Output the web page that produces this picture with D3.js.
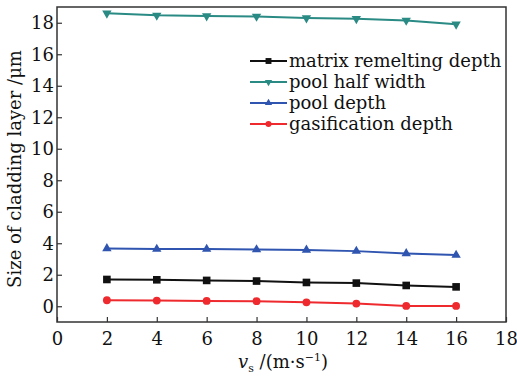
<!DOCTYPE html>
<html><head><meta charset="utf-8">
<script src="https://cdn.jsdelivr.net/npm/d3@7/dist/d3.min.js"></script>
<style>body{margin:0;background:#fff}svg{display:block}text{font-family:"DejaVu Serif",serif;fill:#111}</style>
</head><body><svg id="c" width="517" height="376"></svg>
<script>
const speeds = [2, 4, 6, 8, 10, 12, 14, 16];
const matrixRemelting = [1.70, 1.68, 1.64, 1.60, 1.51, 1.47, 1.32, 1.23];
const poolHalfWidth = [18.60, 18.47, 18.43, 18.40, 18.30, 18.25, 18.15, 17.90];
const poolDepth = [3.67, 3.63, 3.63, 3.60, 3.57, 3.50, 3.35, 3.25];
const gasification = [0.38, 0.36, 0.34, 0.32, 0.25, 0.17, 0.02, 0.02];
const seriesNames = ["matrix remelting depth", "pool half width", "pool depth", "gasification depth"];
const xTicks = [0, 2, 4, 6, 8, 10, 12, 14, 16, 18];
const yTicks = [0, 2, 4, 6, 8, 10, 12, 14, 16, 18];

const series = [
  {name: seriesNames[0], values: matrixRemelting, color: "#111111", sym: d3.symbolSquare, size: 58, rot: 0},
  {name: seriesNames[1], values: poolHalfWidth, color: "#2a8a84", sym: d3.symbolTriangle, size: 38, rot: 180},
  {name: seriesNames[2], values: poolDepth, color: "#2f55b0", sym: d3.symbolTriangle, size: 38, rot: 0},
  {name: seriesNames[3], values: gasification, color: "#ee2a2e", sym: d3.symbolCircle, size: 48, rot: 0}
];

const FS = "18px";
const svg = d3.select("#c");
const L = 57, R = 506, T = 7, B = 322;
const x = d3.scaleLinear().domain([0, 18]).range([L, R]);
const y = d3.scaleLinear().domain([-1, 19]).range([B, T]);

svg.append("rect").attr("x", L).attr("y", T).attr("width", R - L).attr("height", B - T)
  .attr("fill", "none").attr("stroke", "#333").attr("stroke-width", 1.5);

const xAxis = svg.append("g").attr("transform", `translate(0,${B})`)
  .call(d3.axisBottom(x).tickValues(xTicks).tickSizeInner(-5).tickSizeOuter(0).tickPadding(10).tickFormat(d3.format("d")));
const yAxis = svg.append("g").attr("transform", `translate(${L},0)`)
  .call(d3.axisLeft(y).tickValues(yTicks).tickSizeInner(-5).tickSizeOuter(0).tickPadding(3).tickFormat(d3.format("d")));
[xAxis, yAxis].forEach(g => {
  g.select(".domain").remove();
  g.selectAll(".tick line").attr("stroke", "#333").attr("stroke-width", 1.2);
  g.selectAll(".tick text").style("font-family", '"DejaVu Serif",serif').style("font-size", FS).attr("fill", "#111");
});

const line = d3.line().x((d, i) => x(speeds[i])).y(d => y(d));
series.forEach(s => {
  svg.append("path").datum(s.values).attr("d", line).attr("fill", "none")
    .attr("stroke", s.color).attr("stroke-width", 2);
  svg.append("g").selectAll("path").data(s.values).join("path")
    .attr("d", d3.symbol().type(s.sym).size(s.size))
    .attr("transform", (d, i) => `translate(${x(speeds[i])},${y(d)}) rotate(${s.rot})`)
    .attr("fill", s.color);
});

const lg = svg.append("g");
series.forEach((s, i) => {
  const yy = 61 + i * 21;
  lg.append("line").attr("x1", 250).attr("x2", 287).attr("y1", yy).attr("y2", yy)
    .attr("stroke", s.color).attr("stroke-width", 2);
  lg.append("path").attr("d", d3.symbol().type(s.sym).size(s.size * 0.6)())
    .attr("transform", `translate(268.5,${yy}) rotate(${s.rot})`).attr("fill", s.color);
  lg.append("text").attr("x", 289).attr("y", yy).attr("dy", "0.33em")
    .style("font-size", FS).text(s.name);
});

svg.append("text").attr("transform", `translate(21,169) rotate(-90)`)
  .attr("text-anchor", "middle").style("font-size", FS).text("Size of cladding layer /μm");
const xt = svg.append("text").attr("x", 283).attr("y", 368).attr("text-anchor", "middle").style("font-size", FS);
xt.append("tspan").style("font-style", "italic").text("v");
xt.append("tspan").attr("dy", 4).style("font-size", "11px").text("s");
xt.append("tspan").attr("dy", -4).text(" /(m·s");
xt.append("tspan").attr("dy", -7).style("font-size", "11px").text("−1");
xt.append("tspan").attr("dy", 7).text(")");
</script></body></html>
